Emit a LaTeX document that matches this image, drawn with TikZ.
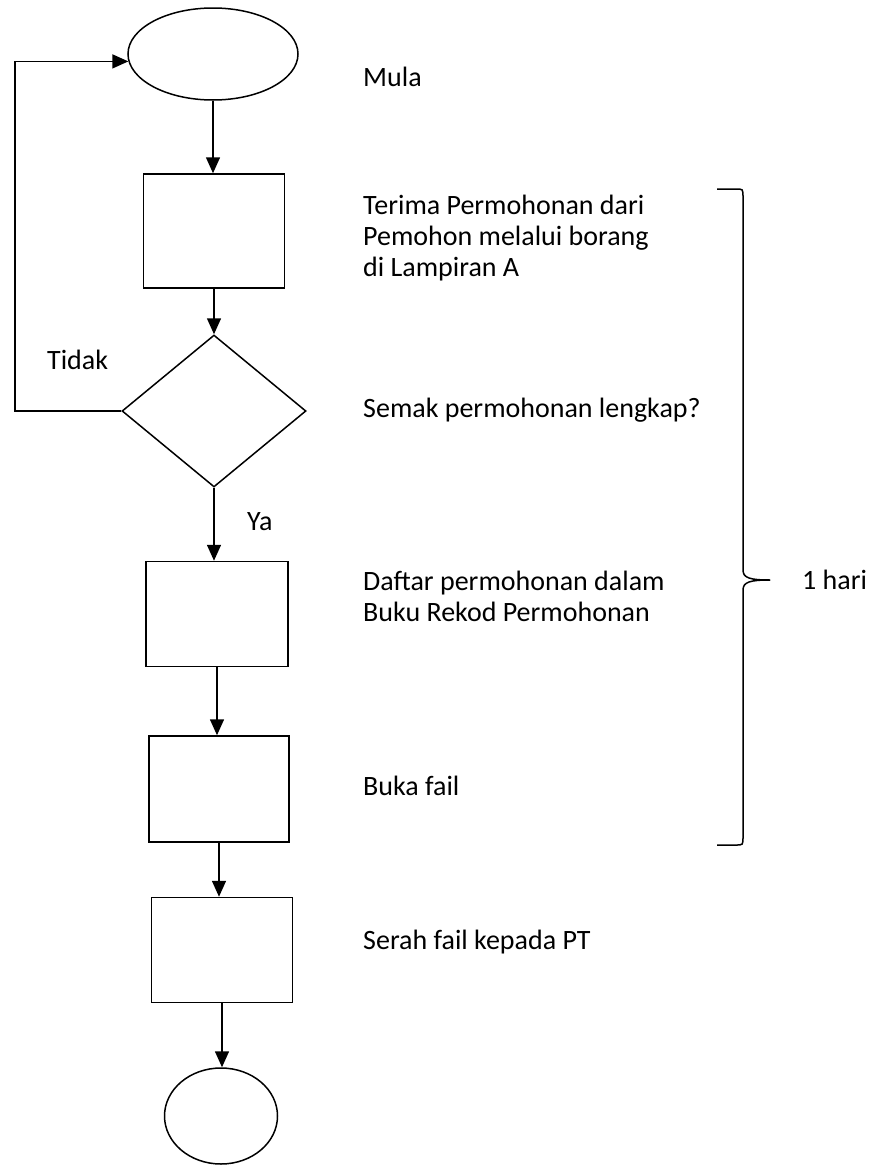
\documentclass[tikz,border=0pt]{standalone}
\usepackage{fontspec}
\setmainfont{Carlito}
\usetikzlibrary{shapes.geometric,arrows.meta}
\tikzstyle{arrow} = [line width=1.5pt,-{Triangle[length=16pt,width=14pt]}]
\tikzstyle{terminal} = [ellipse,draw,line width=1.5pt,inner sep=0pt]
\tikzstyle{process} = [rectangle,draw,line width=1.5pt,inner sep=0pt]
\tikzstyle{decision} = [diamond,draw,line width=1.5pt,inner sep=0pt]
\tikzstyle{note} = [anchor=west,align=left,inner sep=0pt,font=\fontsize{28}{31}\selectfont]

\begin{document}
\begin{tikzpicture}[x=1pt,y=-1pt]
\useasboundingbox (0,0) rectangle (870,1170);

\node[terminal,minimum width=170pt,minimum height=92pt] (start) at (213,54) {};
\node[process,minimum width=141pt,minimum height=114pt] (recv) at (214,231) {};
\node[decision,minimum width=184pt,minimum height=152pt] (check) at (214,411) {};
\node[process,minimum width=142pt,minimum height=105pt] (reg) at (217,614) {};
\node[process,minimum width=140pt,minimum height=106pt] (open) at (219,789) {};
\node[process,minimum width=141pt,minimum height=105pt] (send) at (222,950) {};
\node[terminal,minimum width=113pt,minimum height=96pt] (stop) at (221,1116) {};
\coordinate (loop) at (15,411);

\draw[arrow] (start.south) -- (start.south |- recv.north);
\draw[arrow] (recv.south) -- (recv.south |- check.north);
\draw[arrow] (check.south) -- (check.south |- reg.north);
\draw[arrow] (reg.south) -- (reg.south |- open.north);
\draw[arrow] (open.south) -- (open.south |- send.north);
\draw[arrow] (send.south) -- (send.south |- stop.north);
\draw[arrow] (check.west) -- (loop) |- (start.185);

\node[note] (tidak) at (47,360) {Tidak};
\node[note] (ya) at (247,522) {Ya};

\node[note] (mula) at (363,77) {Mula};
\node[note] (terima) at (363,238) {Terima Permohonan dari\\Pemohon melalui borang\\di Lampiran A};
\node[note] (semak) at (363,410) {Semak permohonan lengkap?};
\node[note] (daftar) at (363,596) {Daftar permohonan dalam\\Buku Rekod Permohonan};
\node[note] (buka) at (363,786) {Buka fail};
\node[note] (serah) at (363,942) {Serah fail kepada PT};

% brace on the right
\draw[line width=1.5pt] (717,189) -- (736,189) .. controls (743,189) .. (743,197)
  -- (743,570) .. controls (743,578) and (750,580) .. (770,580);
\draw[line width=1.5pt] (770,580) .. controls (750,580) and (743,582) .. (743,590)
  -- (743,837) .. controls (743,845) .. (736,845) -- (717,845);
\node[note] (hari) at (802,580) {1 hari};
\end{tikzpicture}
\end{document}
